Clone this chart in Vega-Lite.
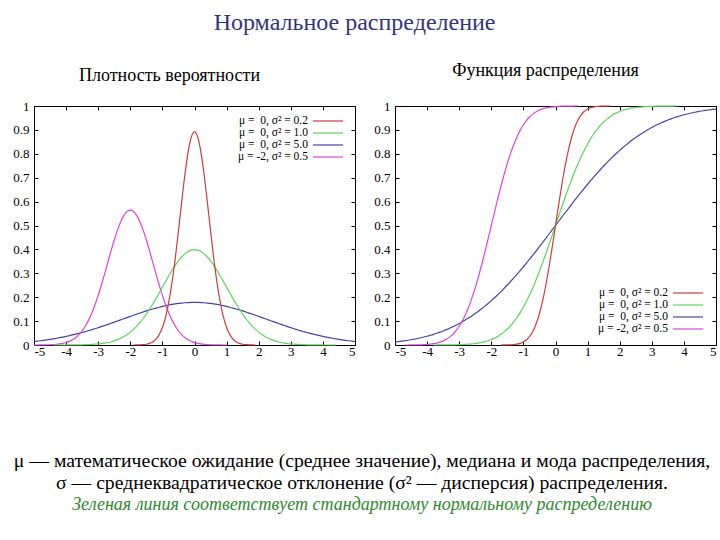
{
  "$schema": "https://vega.github.io/schema/vega-lite/v6.json",
  "padding": {"left": 12, "top": 10, "right": 0, "bottom": 0},
  "config": {
    "font": "Liberation Serif",
    "view": {"stroke": "black", "strokeWidth": 1},
    "axis": {"grid": false, "domain": false, "tickColor": "black", "tickSize": -4, "tickWidth": 1, "labelFontSize": 13, "labelColor": "black", "labelFont": "Liberation Serif", "title": null}
  },
  "title": {"text": "Нормальное распределение", "fontSize": 24, "fontWeight": "normal", "color": "#34347a", "anchor": "middle", "offset": 27, "dx": -11, "font": "Liberation Serif"},
  "datasets": {
    "pdf": [
      {"x": -5.0, "c": 0.0146, "d": 0.0001},
      {"x": -4.9, "c": 0.0162, "d": 0.0001},
      {"x": -4.8, "c": 0.0178, "d": 0.0002},
      {"x": -4.7, "c": 0.0196, "d": 0.0004},
      {"x": -4.6, "c": 0.0215, "d": 0.0007},
      {"x": -4.5, "c": 0.0235, "d": 0.0011},
      {"x": -4.4, "b": 0.0001, "c": 0.0257, "d": 0.0018},
      {"x": -4.3, "b": 0.0001, "c": 0.0281, "d": 0.0028},
      {"x": -4.2, "b": 0.0001, "c": 0.0306, "d": 0.0045},
      {"x": -4.1, "b": 0.0001, "c": 0.0332, "d": 0.0069},
      {"x": -4.0, "b": 0.0001, "c": 0.0360, "d": 0.0103},
      {"x": -3.9, "b": 0.0002, "c": 0.0390, "d": 0.0153},
      {"x": -3.8, "b": 0.0003, "c": 0.0421, "d": 0.0221},
      {"x": -3.7, "b": 0.0004, "c": 0.0454, "d": 0.0314},
      {"x": -3.6, "b": 0.0006, "c": 0.0488, "d": 0.0436},
      {"x": -3.5, "b": 0.0009, "c": 0.0524, "d": 0.0595},
      {"x": -3.4, "b": 0.0012, "c": 0.0562, "d": 0.0795},
      {"x": -3.3, "b": 0.0017, "c": 0.0600, "d": 0.1041},
      {"x": -3.2, "b": 0.0024, "c": 0.0641, "d": 0.1337},
      {"x": -3.1, "b": 0.0033, "c": 0.0682, "d": 0.1682},
      {"x": -3.0, "b": 0.0044, "c": 0.0725, "d": 0.2076},
      {"x": -2.9, "b": 0.0060, "c": 0.0769, "d": 0.2510},
      {"x": -2.8, "b": 0.0079, "c": 0.0815, "d": 0.2975},
      {"x": -2.7, "b": 0.0104, "c": 0.0861, "d": 0.3456},
      {"x": -2.6, "b": 0.0136, "c": 0.0908, "d": 0.3936},
      {"x": -2.5, "b": 0.0175, "c": 0.0955, "d": 0.4394},
      {"x": -2.4, "b": 0.0224, "c": 0.1003, "d": 0.4808},
      {"x": -2.3, "b": 0.0283, "c": 0.1051, "d": 0.5156},
      {"x": -2.2, "b": 0.0355, "c": 0.1100, "d": 0.5421},
      {"x": -2.1, "b": 0.0440, "c": 0.1148, "d": 0.5586},
      {"x": -2.0, "b": 0.0540, "c": 0.1196, "d": 0.5642},
      {"x": -1.9, "a": 0.0001, "b": 0.0656, "c": 0.1244, "d": 0.5586},
      {"x": -1.8, "a": 0.0003, "b": 0.0790, "c": 0.1290, "d": 0.5421},
      {"x": -1.7, "a": 0.0006, "b": 0.0940, "c": 0.1336, "d": 0.5156},
      {"x": -1.6, "a": 0.0015, "b": 0.1109, "c": 0.1381, "d": 0.4808},
      {"x": -1.5, "a": 0.0032, "b": 0.1295, "c": 0.1425, "d": 0.4394},
      {"x": -1.4, "a": 0.0066, "b": 0.1497, "c": 0.1467, "d": 0.3936},
      {"x": -1.3, "a": 0.0130, "b": 0.1714, "c": 0.1507, "d": 0.3456},
      {"x": -1.2, "a": 0.0244, "b": 0.1942, "c": 0.1545, "d": 0.2975},
      {"x": -1.1, "a": 0.0433, "b": 0.2179, "c": 0.1581, "d": 0.2510},
      {"x": -1.0, "a": 0.0732, "b": 0.2420, "c": 0.1614, "d": 0.2076},
      {"x": -0.9, "a": 0.1177, "b": 0.2661, "c": 0.1645, "d": 0.1682},
      {"x": -0.8, "a": 0.1801, "b": 0.2897, "c": 0.1674, "d": 0.1337},
      {"x": -0.7, "a": 0.2621, "b": 0.3123, "c": 0.1699, "d": 0.1041},
      {"x": -0.6, "a": 0.3627, "b": 0.3332, "c": 0.1721, "d": 0.0795},
      {"x": -0.5, "a": 0.4775, "b": 0.3521, "c": 0.1740, "d": 0.0595},
      {"x": -0.4, "a": 0.5980, "b": 0.3683, "c": 0.1756, "d": 0.0436},
      {"x": -0.3, "a": 0.7123, "b": 0.3814, "c": 0.1768, "d": 0.0314},
      {"x": -0.2, "a": 0.8072, "b": 0.3910, "c": 0.1777, "d": 0.0221},
      {"x": -0.1, "a": 0.8700, "b": 0.3970, "c": 0.1782, "d": 0.0153},
      {"x": 0.0, "a": 0.8921, "b": 0.3989, "c": 0.1784, "d": 0.0103},
      {"x": 0.1, "a": 0.8700, "b": 0.3970, "c": 0.1782, "d": 0.0069},
      {"x": 0.2, "a": 0.8072, "b": 0.3910, "c": 0.1777, "d": 0.0045},
      {"x": 0.3, "a": 0.7123, "b": 0.3814, "c": 0.1768, "d": 0.0028},
      {"x": 0.4, "a": 0.5980, "b": 0.3683, "c": 0.1756, "d": 0.0018},
      {"x": 0.5, "a": 0.4775, "b": 0.3521, "c": 0.1740, "d": 0.0011},
      {"x": 0.6, "a": 0.3627, "b": 0.3332, "c": 0.1721, "d": 0.0007},
      {"x": 0.7, "a": 0.2621, "b": 0.3123, "c": 0.1699, "d": 0.0004},
      {"x": 0.8, "a": 0.1801, "b": 0.2897, "c": 0.1674, "d": 0.0002},
      {"x": 0.9, "a": 0.1177, "b": 0.2661, "c": 0.1645, "d": 0.0001},
      {"x": 1.0, "a": 0.0732, "b": 0.2420, "c": 0.1614, "d": 0.0001},
      {"x": 1.1, "a": 0.0433, "b": 0.2179, "c": 0.1581},
      {"x": 1.2, "a": 0.0244, "b": 0.1942, "c": 0.1545},
      {"x": 1.3, "a": 0.0130, "b": 0.1714, "c": 0.1507},
      {"x": 1.4, "a": 0.0066, "b": 0.1497, "c": 0.1467},
      {"x": 1.5, "a": 0.0032, "b": 0.1295, "c": 0.1425},
      {"x": 1.6, "a": 0.0015, "b": 0.1109, "c": 0.1381},
      {"x": 1.7, "a": 0.0006, "b": 0.0940, "c": 0.1336},
      {"x": 1.8, "a": 0.0003, "b": 0.0790, "c": 0.1290},
      {"x": 1.9, "a": 0.0001, "b": 0.0656, "c": 0.1244},
      {"x": 2.0, "b": 0.0540, "c": 0.1196},
      {"x": 2.1, "b": 0.0440, "c": 0.1148},
      {"x": 2.2, "b": 0.0355, "c": 0.1100},
      {"x": 2.3, "b": 0.0283, "c": 0.1051},
      {"x": 2.4, "b": 0.0224, "c": 0.1003},
      {"x": 2.5, "b": 0.0175, "c": 0.0955},
      {"x": 2.6, "b": 0.0136, "c": 0.0908},
      {"x": 2.7, "b": 0.0104, "c": 0.0861},
      {"x": 2.8, "b": 0.0079, "c": 0.0815},
      {"x": 2.9, "b": 0.0060, "c": 0.0769},
      {"x": 3.0, "b": 0.0044, "c": 0.0725},
      {"x": 3.1, "b": 0.0033, "c": 0.0682},
      {"x": 3.2, "b": 0.0024, "c": 0.0641},
      {"x": 3.3, "b": 0.0017, "c": 0.0600},
      {"x": 3.4, "b": 0.0012, "c": 0.0562},
      {"x": 3.5, "b": 0.0009, "c": 0.0524},
      {"x": 3.6, "b": 0.0006, "c": 0.0488},
      {"x": 3.7, "b": 0.0004, "c": 0.0454},
      {"x": 3.8, "b": 0.0003, "c": 0.0421},
      {"x": 3.9, "b": 0.0002, "c": 0.0390},
      {"x": 4.0, "b": 0.0001, "c": 0.0360},
      {"x": 4.1, "b": 0.0001, "c": 0.0332},
      {"x": 4.2, "b": 0.0001, "c": 0.0306},
      {"x": 4.3, "b": 0.0001, "c": 0.0281},
      {"x": 4.4, "b": 0.0001, "c": 0.0257},
      {"x": 4.5, "c": 0.0235},
      {"x": 4.6, "c": 0.0215},
      {"x": 4.7, "c": 0.0196},
      {"x": 4.8, "c": 0.0178},
      {"x": 4.9, "c": 0.0162},
      {"x": 5.0, "c": 0.0146}
    ],
    "cdf": [
      {"x": -5.0, "c": 0.0127},
      {"x": -4.9, "c": 0.0142},
      {"x": -4.8, "c": 0.0159},
      {"x": -4.7, "c": 0.0178, "d": 0.0001},
      {"x": -4.6, "c": 0.0198, "d": 0.0001},
      {"x": -4.5, "c": 0.0221, "d": 0.0002},
      {"x": -4.4, "c": 0.0246, "d": 0.0003},
      {"x": -4.3, "c": 0.0272, "d": 0.0006},
      {"x": -4.2, "c": 0.0302, "d": 0.0009},
      {"x": -4.1, "c": 0.0334, "d": 0.0015},
      {"x": -4.0, "c": 0.0368, "d": 0.0023},
      {"x": -3.9, "c": 0.0406, "d": 0.0036},
      {"x": -3.8, "b": 0.0001, "c": 0.0446, "d": 0.0055},
      {"x": -3.7, "b": 0.0001, "c": 0.0490, "d": 0.0081},
      {"x": -3.6, "b": 0.0002, "c": 0.0537, "d": 0.0118},
      {"x": -3.5, "b": 0.0002, "c": 0.0588, "d": 0.0169},
      {"x": -3.4, "b": 0.0003, "c": 0.0642, "d": 0.0239},
      {"x": -3.3, "b": 0.0005, "c": 0.0700, "d": 0.0330},
      {"x": -3.2, "b": 0.0007, "c": 0.0762, "d": 0.0448},
      {"x": -3.1, "b": 0.0010, "c": 0.0828, "d": 0.0599},
      {"x": -3.0, "b": 0.0013, "c": 0.0899, "d": 0.0786},
      {"x": -2.9, "b": 0.0019, "c": 0.0974, "d": 0.1015},
      {"x": -2.8, "b": 0.0026, "c": 0.1052, "d": 0.1289},
      {"x": -2.7, "b": 0.0035, "c": 0.1136, "d": 0.1611},
      {"x": -2.6, "b": 0.0047, "c": 0.1225, "d": 0.1981},
      {"x": -2.5, "b": 0.0062, "c": 0.1318, "d": 0.2398},
      {"x": -2.4, "b": 0.0082, "c": 0.1416, "d": 0.2858},
      {"x": -2.3, "b": 0.0107, "c": 0.1518, "d": 0.3357},
      {"x": -2.2, "b": 0.0139, "c": 0.1626, "d": 0.3887},
      {"x": -2.1, "b": 0.0179, "c": 0.1738, "d": 0.4438},
      {"x": -2.0, "b": 0.0228, "c": 0.1856, "d": 0.5},
      {"x": -1.9, "b": 0.0287, "c": 0.1977, "d": 0.5562},
      {"x": -1.8, "b": 0.0359, "c": 0.2104, "d": 0.6113},
      {"x": -1.7, "a": 0.0001, "b": 0.0446, "c": 0.2235, "d": 0.6643},
      {"x": -1.6, "a": 0.0002, "b": 0.0548, "c": 0.2371, "d": 0.7142},
      {"x": -1.5, "a": 0.0004, "b": 0.0668, "c": 0.2511, "d": 0.7602},
      {"x": -1.4, "a": 0.0009, "b": 0.0808, "c": 0.2656, "d": 0.8019},
      {"x": -1.3, "a": 0.0018, "b": 0.0968, "c": 0.2805, "d": 0.8389},
      {"x": -1.2, "a": 0.0037, "b": 0.1151, "c": 0.2957, "d": 0.8711},
      {"x": -1.1, "a": 0.0069, "b": 0.1357, "c": 0.3114, "d": 0.8985},
      {"x": -1.0, "a": 0.0127, "b": 0.1587, "c": 0.3274, "d": 0.9214},
      {"x": -0.9, "a": 0.0221, "b": 0.1841, "c": 0.3437, "d": 0.9401},
      {"x": -0.8, "a": 0.0368, "b": 0.2119, "c": 0.3602, "d": 0.9552},
      {"x": -0.7, "a": 0.0588, "b": 0.2420, "c": 0.3771, "d": 0.9670},
      {"x": -0.6, "a": 0.0899, "b": 0.2743, "c": 0.3942, "d": 0.9761},
      {"x": -0.5, "a": 0.1318, "b": 0.3085, "c": 0.4115, "d": 0.9831},
      {"x": -0.4, "a": 0.1856, "b": 0.3446, "c": 0.4290, "d": 0.9882},
      {"x": -0.3, "a": 0.2511, "b": 0.3821, "c": 0.4466, "d": 0.9919},
      {"x": -0.2, "a": 0.3274, "b": 0.4207, "c": 0.4644, "d": 0.9945},
      {"x": -0.1, "a": 0.4115, "b": 0.4602, "c": 0.4822, "d": 0.9964},
      {"x": 0.0, "a": 0.5, "b": 0.5, "c": 0.5, "d": 0.9977},
      {"x": 0.1, "a": 0.5885, "b": 0.5398, "c": 0.5178, "d": 0.9985},
      {"x": 0.2, "a": 0.6726, "b": 0.5793, "c": 0.5356, "d": 0.9991},
      {"x": 0.3, "a": 0.7489, "b": 0.6179, "c": 0.5534, "d": 0.9994},
      {"x": 0.4, "a": 0.8144, "b": 0.6554, "c": 0.5710, "d": 0.9997},
      {"x": 0.5, "a": 0.8682, "b": 0.6915, "c": 0.5885, "d": 0.9998},
      {"x": 0.6, "a": 0.9101, "b": 0.7257, "c": 0.6058, "d": 0.9999},
      {"x": 0.7, "a": 0.9412, "b": 0.7580, "c": 0.6229, "d": 0.9999},
      {"x": 0.8, "a": 0.9632, "b": 0.7881, "c": 0.6398},
      {"x": 0.9, "a": 0.9779, "b": 0.8159, "c": 0.6563},
      {"x": 1.0, "a": 0.9873, "b": 0.8413, "c": 0.6726},
      {"x": 1.1, "a": 0.9931, "b": 0.8643, "c": 0.6886},
      {"x": 1.2, "a": 0.9963, "b": 0.8849, "c": 0.7043},
      {"x": 1.3, "a": 0.9982, "b": 0.9032, "c": 0.7195},
      {"x": 1.4, "a": 0.9991, "b": 0.9192, "c": 0.7344},
      {"x": 1.5, "a": 0.9996, "b": 0.9332, "c": 0.7489},
      {"x": 1.6, "a": 0.9998, "b": 0.9452, "c": 0.7629},
      {"x": 1.7, "a": 0.9999, "b": 0.9554, "c": 0.7765},
      {"x": 1.8, "b": 0.9641, "c": 0.7896},
      {"x": 1.9, "b": 0.9713, "c": 0.8023},
      {"x": 2.0, "b": 0.9772, "c": 0.8144},
      {"x": 2.1, "b": 0.9821, "c": 0.8262},
      {"x": 2.2, "b": 0.9861, "c": 0.8374},
      {"x": 2.3, "b": 0.9893, "c": 0.8482},
      {"x": 2.4, "b": 0.9918, "c": 0.8584},
      {"x": 2.5, "b": 0.9938, "c": 0.8682},
      {"x": 2.6, "b": 0.9953, "c": 0.8775},
      {"x": 2.7, "b": 0.9965, "c": 0.8864},
      {"x": 2.8, "b": 0.9974, "c": 0.8948},
      {"x": 2.9, "b": 0.9981, "c": 0.9026},
      {"x": 3.0, "b": 0.9987, "c": 0.9101},
      {"x": 3.1, "b": 0.9990, "c": 0.9172},
      {"x": 3.2, "b": 0.9993, "c": 0.9238},
      {"x": 3.3, "b": 0.9995, "c": 0.9300},
      {"x": 3.4, "b": 0.9997, "c": 0.9358},
      {"x": 3.5, "b": 0.9998, "c": 0.9412},
      {"x": 3.6, "b": 0.9998, "c": 0.9463},
      {"x": 3.7, "b": 0.9999, "c": 0.9510},
      {"x": 3.8, "b": 0.9999, "c": 0.9554},
      {"x": 3.9, "c": 0.9594},
      {"x": 4.0, "c": 0.9632},
      {"x": 4.1, "c": 0.9666},
      {"x": 4.2, "c": 0.9698},
      {"x": 4.3, "c": 0.9728},
      {"x": 4.4, "c": 0.9754},
      {"x": 4.5, "c": 0.9779},
      {"x": 4.6, "c": 0.9802},
      {"x": 4.7, "c": 0.9822},
      {"x": 4.8, "c": 0.9841},
      {"x": 4.9, "c": 0.9858},
      {"x": 5.0, "c": 0.9873}
    ],
    "notes": [
      {"k": 1, "t": "μ — математическое ожидание (среднее значение), медиана и мода распределения,"},
      {"k": 2, "t": "σ — среднеквадратическое отклонение (σ² — дисперсия) распределения."},
      {"k": 3, "t": "Зеленая линия соответствует стандартному нормальному распределению"}
    ]
  },
  "vconcat": [
    {
      "hconcat": [
        {
          "width": 321, "height": 239,
          "title": {"text": "Плотность вероятности", "fontSize": 18, "fontWeight": "normal", "color": "black", "offset": 15, "dx": -25},
          "data": {"name": "pdf"},
          "transform": [{"fold": ["a", "b", "c", "d"], "as": ["s", "y"]}, {"filter": "isValid(datum.y)"}],
          "layer": [
            {
              "mark": {"type": "line", "strokeWidth": 1.2, "interpolate": "monotone"},
              "encoding": {
                "x": {"field": "x", "type": "quantitative", "scale": {"domain": [-5, 5], "nice": false}, "axis": {"orient": "bottom", "values": [-5,-4,-3,-2,-1,0,1,2,3,4,5], "labelExpr": "'' + datum.value", "labelPadding": 4}},
                "y": {"field": "y", "type": "quantitative", "scale": {"domain": [0, 1], "nice": false}, "axis": {"orient": "left", "values": [0,0.1,0.2,0.3,0.4,0.5,0.6,0.7,0.8,0.9,1], "labelExpr": "'' + datum.value", "labelPadding": 9}},
                "color": {"field": "s", "type": "nominal", "scale": {"domain": ["a","b","c","d"], "range": ["#cc3d3d", "#5ad85a", "#4545a5", "#dd45dd"]},
                  "legend": {"orient": "top-right", "title": null, "symbolType": "M-3,0H3", "symbolSize": 100, "symbolStrokeWidth": 1.2, "labelAlign": "right", "labelOffset": -26, "labelFontSize": 11.5, "labelColor": "black", "offset": 9, "padding": 0, "rowPadding": -2.5,
                    "labelExpr": "{'a': 'μ = \u00a00, σ² = 0.2', 'b': 'μ = \u00a00, σ² = 1.0', 'c': 'μ = \u00a00, σ² = 5.0', 'd': 'μ = -2, σ² = 0.5'}[datum.label]"}},
                "detail": {"field": "s"}
              }
            },
            {
              "mark": {"type": "line", "opacity": 0},
              "encoding": {
                "x": {"field": "x", "type": "quantitative", "axis": {"orient": "top", "values": [-5,-4,-3,-2,-1,0,1,2,3,4,5], "labels": false}},
                "y": {"field": "y", "type": "quantitative", "axis": {"orient": "right", "values": [0,0.1,0.2,0.3,0.4,0.5,0.6,0.7,0.8,0.9,1], "labels": false}},
                "detail": {"field": "s"}
              }
            }
          ],
          "resolve": {"axis": {"x": "independent", "y": "independent"}}
        },
        {
          "width": 321, "height": 239,
          "title": {"text": "Функция распределения", "fontSize": 18, "fontWeight": "normal", "color": "black", "offset": 15, "dx": -10, "dy": -5},
          "data": {"name": "cdf"},
          "transform": [{"fold": ["a", "b", "c", "d"], "as": ["s", "y"]}, {"filter": "isValid(datum.y)"}],
          "layer": [
            {
              "mark": {"type": "line", "strokeWidth": 1.2, "interpolate": "monotone"},
              "encoding": {
                "x": {"field": "x", "type": "quantitative", "scale": {"domain": [-5, 5], "nice": false}, "axis": {"orient": "bottom", "values": [-5,-4,-3,-2,-1,0,1,2,3,4,5], "labelExpr": "'' + datum.value", "labelPadding": 4}},
                "y": {"field": "y", "type": "quantitative", "scale": {"domain": [0, 1], "nice": false}, "axis": {"orient": "left", "values": [0,0.1,0.2,0.3,0.4,0.5,0.6,0.7,0.8,0.9,1], "labelExpr": "'' + datum.value", "labelPadding": 9}},
                "color": {"field": "s", "type": "nominal", "scale": {"domain": ["a","b","c","d"], "range": ["#cc3d3d", "#5ad85a", "#4545a5", "#dd45dd"]},
                  "legend": {"orient": "bottom-right", "title": null, "symbolType": "M-3,0H3", "symbolSize": 100, "symbolStrokeWidth": 1.2, "labelAlign": "right", "labelOffset": -26, "labelFontSize": 11.5, "labelColor": "black", "offset": 10, "padding": 0, "rowPadding": -2.5,
                    "labelExpr": "{'a': 'μ = \u00a00, σ² = 0.2', 'b': 'μ = \u00a00, σ² = 1.0', 'c': 'μ = \u00a00, σ² = 5.0', 'd': 'μ = -2, σ² = 0.5'}[datum.label]"}},
                "detail": {"field": "s"}
              }
            },
            {
              "mark": {"type": "line", "opacity": 0},
              "encoding": {
                "x": {"field": "x", "type": "quantitative", "axis": {"orient": "top", "values": [-5,-4,-3,-2,-1,0,1,2,3,4,5], "labels": false}},
                "y": {"field": "y", "type": "quantitative", "axis": {"orient": "right", "values": [0,0.1,0.2,0.3,0.4,0.5,0.6,0.7,0.8,0.9,1], "labels": false}},
                "detail": {"field": "s"}
              }
            }
          ],
          "resolve": {"axis": {"x": "independent", "y": "independent"}}
        }
      ],
      "spacing": 15,
      "resolve": {"scale": {"color": "independent"}, "legend": {"color": "independent"}}
    },
    {
      "width": 656, "height": 66,
      "view": {"stroke": null},
      "data": {"name": "notes"},
      "layer": [
        {
          "transform": [{"filter": "datum.k < 3"}],
          "mark": {"type": "text", "fontSize": 19.7, "color": "black"},
          "encoding": {
            "y": {"field": "k", "type": "ordinal", "axis": null, "scale": {"type": "point", "domain": [1, 2, 3], "padding": 0.5}},
            "text": {"field": "t"}
          }
        },
        {
          "transform": [{"filter": "datum.k == 3"}],
          "mark": {"type": "text", "fontSize": 18, "fontStyle": "italic", "color": "#2e8a2e"},
          "encoding": {
            "y": {"field": "k", "type": "ordinal", "axis": null, "scale": {"type": "point", "domain": [1, 2, 3], "padding": 0.5}},
            "text": {"field": "t"}
          }
        }
      ]
    }
  ],
  "spacing": 91
}
